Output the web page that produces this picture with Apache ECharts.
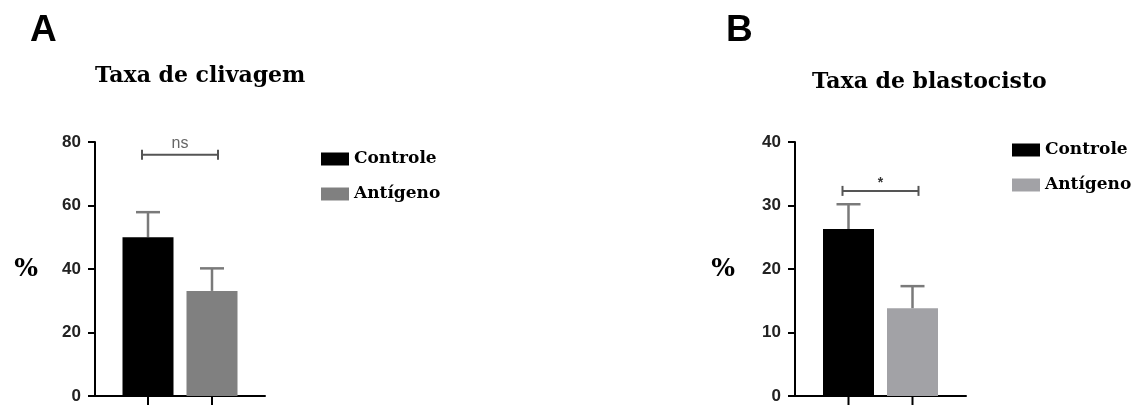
<!DOCTYPE html>
<html lang="pt">
    <head>
        <title>Taxa de clivagem / blastocisto</title>
        <meta charset="utf-8">
        <script src='https://cdn.jsdelivr.net/npm/echarts@6/dist/echarts.min.js'></script>
    </head>

    <style>
        html, body, #main {
            width: 100%;
            height: 100%;
            margin: 0;
            background: #fff;
        }
    </style>

    <body>
        <div id='main'></div>

        <script>
            // data
            const groups = ['Controle', 'Antígeno'];
            const category = ['x'];

            const clivagemMean = [50.0, 33.1];
            const clivagemErr = [7.9, 7.1];
            const clivagemSig = [76, 'ns'];

            const blastoMean = [26.3, 13.8];
            const blastoErr = [3.9, 3.5];
            const blastoSig = [32.3, '*'];

            const colorsA = ['#000000', '#808080'];
            const colorsB = ['#000000', '#a2a2a6'];

            const BAR_W = 51;
            const BAR_GAP = 13;
            const half = (BAR_W + BAR_GAP) / 2;

            const serif = 'DejaVu Serif';
            const sans = 'Liberation Sans';

            function errorBars(gridIdx, means, errs) {
                return {
                    type: 'custom',
                    xAxisIndex: gridIdx,
                    yAxisIndex: gridIdx,
                    silent: true,
                    z: 1,
                    data: means.map((m, i) => [0, m, errs[i], i]),
                    encode: { x: 0, y: 1 },
                    renderItem: function (params, api) {
                        const i = api.value(3);
                        const dx = i === 0 ? -half : half;
                        const top = api.coord([0, api.value(1)]);
                        const end = api.coord([0, api.value(1) + api.value(2)]);
                        const base = api.coord([0, 0]);
                        const x = top[0] + dx;
                        const st = { stroke: '#7a7a7a', lineWidth: 2.5 };
                        return {
                            type: 'group',
                            children: [
                                { type: 'line', shape: { x1: x, y1: top[1], x2: x, y2: end[1] }, style: st },
                                { type: 'line', shape: { x1: x - 12, y1: end[1], x2: x + 12, y2: end[1] }, style: st },
                                { type: 'line', shape: { x1: x, y1: base[1], x2: x, y2: base[1] + 10 }, style: { stroke: '#000', lineWidth: 2 } }
                            ]
                        };
                    }
                };
            }

            function bracket(gridIdx, sig) {
                return {
                    type: 'custom',
                    xAxisIndex: gridIdx,
                    yAxisIndex: gridIdx,
                    silent: true,
                    z: 3,
                    data: [[0, sig[0]]],
                    encode: { x: 0, y: 1 },
                    renderItem: function (params, api) {
                        const p = api.coord([0, api.value(1)]);
                        const x1 = p[0] - half - 6;
                        const x2 = p[0] + half + 6;
                        const st = { stroke: '#555', lineWidth: 2 };
                        const isStar = sig[1] === '*';
                        return {
                            type: 'group',
                            children: [
                                { type: 'line', shape: { x1: x1, y1: p[1], x2: x2, y2: p[1] }, style: st },
                                { type: 'line', shape: { x1: x1, y1: p[1] - 5, x2: x1, y2: p[1] + 5 }, style: st },
                                { type: 'line', shape: { x1: x2, y1: p[1] - 5, x2: x2, y2: p[1] + 5 }, style: st },
                                {
                                    type: 'text',
                                    style: {
                                        text: sig[1],
                                        x: p[0],
                                        y: isStar ? p[1] - 1 : p[1] - 3,
                                        align: 'center',
                                        verticalAlign: 'bottom',
                                        font: (isStar ? 'bold 14px ' : '16px ') + sans,
                                        fill: isStar ? '#333' : '#666'
                                    }
                                }
                            ]
                        };
                    }
                };
            }

            function bars(gridIdx, means, colors) {
                return groups.map((g, i) => ({
                    name: g,
                    type: 'bar',
                    xAxisIndex: gridIdx,
                    yAxisIndex: gridIdx,
                    barWidth: BAR_W,
                    barGap: (BAR_GAP / BAR_W * 100) + '%',
                    itemStyle: { color: colors[i] },
                    z: 2,
                    data: [means[i]]
                }));
            }

            function yAxis(gridIdx, max, interval, gap) {
                return {
                    type: 'value',
                    gridIndex: gridIdx,
                    min: 0,
                    max: max,
                    interval: interval,
                    name: '%',
                    nameLocation: 'middle',
                    nameRotate: 0,
                    nameGap: gap,
                    nameTextStyle: { fontFamily: serif, fontWeight: 'bold', fontSize: 25, color: '#000', align: 'right' },
                    axisLine: { show: true, lineStyle: { color: '#000', width: 2 } },
                    axisTick: { show: true, length: 7, lineStyle: { color: '#000', width: 2 } },
                    axisLabel: { margin: 14, fontFamily: sans, fontWeight: 'bold', fontSize: 17, color: '#222' },
                    splitLine: { show: false }
                };
            }

            function xAxis(gridIdx) {
                return {
                    type: 'category',
                    gridIndex: gridIdx,
                    data: category,
                    axisLine: { lineStyle: { color: '#000', width: 2 } },
                    axisTick: { show: false },
                    axisLabel: { show: false }
                };
            }

            function legend(left, top, colors) {
                return {
                    left: left,
                    top: top,
                    padding: 0,
                    orient: 'vertical',
                    icon: 'rect',
                    itemWidth: 28,
                    itemHeight: 13,
                    itemGap: 17,
                    selectedMode: false,
                    textStyle: { fontFamily: serif, fontWeight: 'bold', fontSize: 17, color: '#000', lineHeight: 18 },
                    data: groups.map((g, i) => ({ name: g, itemStyle: { color: colors[i] } }))
                };
            }

            const chart = echarts.init(document.getElementById('main'));

            const letterStyle = { fontFamily: sans, fontWeight: 'bold', fontSize: 37, color: '#000' };
            const titleStyle = { fontFamily: serif, fontWeight: 'bold', fontSize: 22, color: '#000' };

            const option = {
                animation: false,
                backgroundColor: '#fff',
                title: [
                    { text: 'A', left: 30, top: 12, padding: 0, textStyle: letterStyle },
                    { text: 'B', left: 726, top: 12, padding: 0, textStyle: letterStyle },
                    { text: 'Taxa de clivagem', left: 95, top: 65, padding: 0, textStyle: titleStyle },
                    { text: 'Taxa de blastocisto', left: 812, top: 71, padding: 0, textStyle: titleStyle }
                ],
                legend: [
                    legend(321, 150, colorsA),
                    legend(1012, 141, colorsB)
                ],
                grid: [
                    { left: 95, top: 142, width: 170, height: 254 },
                    { left: 795, top: 142, width: 171, height: 254 }
                ],
                xAxis: [xAxis(0), xAxis(1)],
                yAxis: [yAxis(0, 80, 20, 57), yAxis(1, 40, 10, 60)],
                series: [
                    ...bars(0, clivagemMean, colorsA),
                    ...bars(1, blastoMean, colorsB),
                    errorBars(0, clivagemMean, clivagemErr),
                    errorBars(1, blastoMean, blastoErr),
                    bracket(0, clivagemSig),
                    bracket(1, blastoSig)
                ]
            };

            chart.setOption(option);

            window.onresize = function () {
                chart.resize();
            }
        </script>
    </body>
</html>
